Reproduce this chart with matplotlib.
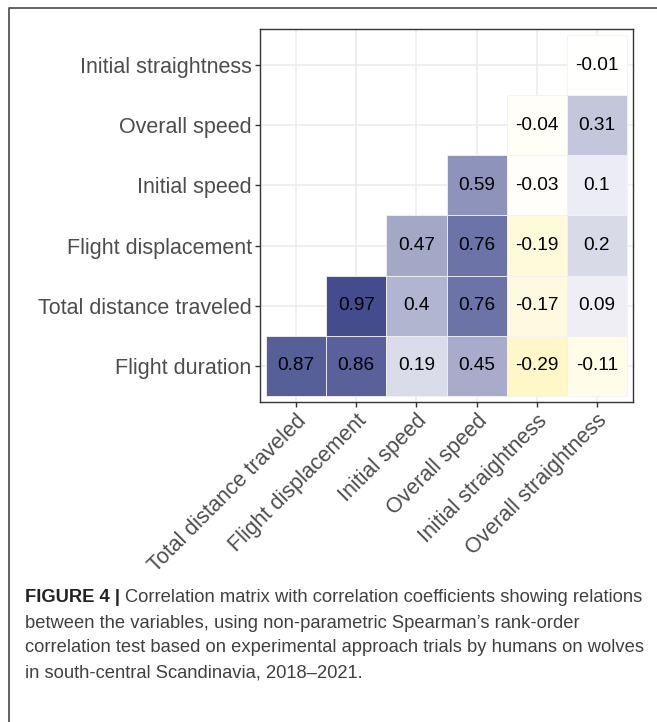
import numpy as np
import matplotlib
matplotlib.use("Agg")
import matplotlib.pyplot as plt
from matplotlib.colors import LinearSegmentedColormap

plt.rcParams['font.family'] = ['Liberation Sans', 'DejaVu Sans']

col_vars = ["Total distance traveled", "Flight displacement", "Initial speed",
            "Overall speed", "Initial straightness", "Overall straightness"]
row_vars = ["Flight duration", "Total distance traveled", "Flight displacement",
            "Initial speed", "Overall speed", "Initial straightness"]

# lower triangle of the Spearman matrix, one list per row (bottom to top)
r_flight_duration = [0.87, 0.86, 0.19, 0.45, -0.29, -0.11]
r_total_distance = [None, 0.97, 0.4, 0.76, -0.17, 0.09]
r_flight_displacement = [None, None, 0.47, 0.76, -0.19, 0.2]
r_initial_speed = [None, None, None, 0.59, -0.03, 0.1]
r_overall_speed = [None, None, None, None, -0.04, 0.31]
r_initial_straightness = [None, None, None, None, None, -0.01]

rows = [r_flight_duration, r_total_distance, r_flight_displacement,
        r_initial_speed, r_overall_speed, r_initial_straightness]

caption_bold = "FIGURE 4 |"
caption_lines = [
    "Correlation matrix with correlation coefficients showing relations",
    "between the variables, using non-parametric Spearman\u2019s rank-order",
    "correlation test based on experimental approach trials by humans on wolves",
    "in south-central Scandinavia, 2018\u20132021.",
]

cmap = LinearSegmentedColormap.from_list("corr", ["#FFE341", "#FFFFFF", "#3F488A"])

fig = plt.figure(figsize=(6.57, 7.22), dpi=100)

# frame around the figure block
frame = fig.add_axes([0, 0, 1, 1], zorder=-5)
frame.set_xlim(0, 657)
frame.set_ylim(722, 0)
frame.axis("off")
frame.plot([8.5, 8.5, 657], [722, 7.5, 7.5], color="#555555", lw=1.3)

ax = fig.add_axes([260 / 657, 1 - 402 / 722, 373 / 657, 373 / 722])
ax.set_xlim(-0.6, len(col_vars) - 0.4)
ax.set_ylim(-0.6, len(row_vars) - 0.4)

for k in range(len(col_vars)):
    ax.axvline(k, color="#EBEBEB", lw=1.1, zorder=0)
for k in range(len(row_vars)):
    ax.axhline(k, color="#EBEBEB", lw=1.1, zorder=0)

for yi, vals in enumerate(rows):
    for xi, v in enumerate(vals):
        if v is None:
            continue
        ax.add_patch(plt.Rectangle((xi - 0.5, yi - 0.5), 1, 1,
                                   facecolor=cmap((v + 1) / 2),
                                   edgecolor="#F2F2F2", lw=0.6, zorder=2))
        ax.text(xi, yi, f"{v:g}", ha="center", va="center",
                fontsize=13.7, color="black", zorder=3)

for s in ax.spines.values():
    s.set_color("#333333")
    s.set_linewidth(1.0)

ax.set_xticks(range(len(col_vars)))
ax.set_yticks(range(len(row_vars)))
ax.set_yticklabels(row_vars, fontsize=15.5, color="#4D4D4D")
ax.set_xticklabels(col_vars, fontsize=15.5, color="#4D4D4D",
                   rotation=45, ha="right", va="top", rotation_mode="anchor")
ax.tick_params(length=3.5, width=1.0, color="#333333", pad=2.5)

# caption: bold label, then the text on the same line
cap_size = 13.2
y0 = 598
t_bold = fig.text(25 / 657, 1 - y0 / 722, caption_bold, fontsize=cap_size,
                  fontweight="bold", color="#222222", va="center")
fig.canvas.draw()
bb = t_bold.get_window_extent(renderer=fig.canvas.get_renderer())
fig.text((bb.x1 + 5) / 657, 1 - y0 / 722, caption_lines[0], fontsize=cap_size,
         color="#404040", va="center")
for i, line in enumerate(caption_lines[1:], start=1):
    fig.text(25 / 657, 1 - (y0 + 25 * i) / 722, line, fontsize=cap_size,
             color="#404040", va="center")

fig.savefig("out.png", dpi=100)
